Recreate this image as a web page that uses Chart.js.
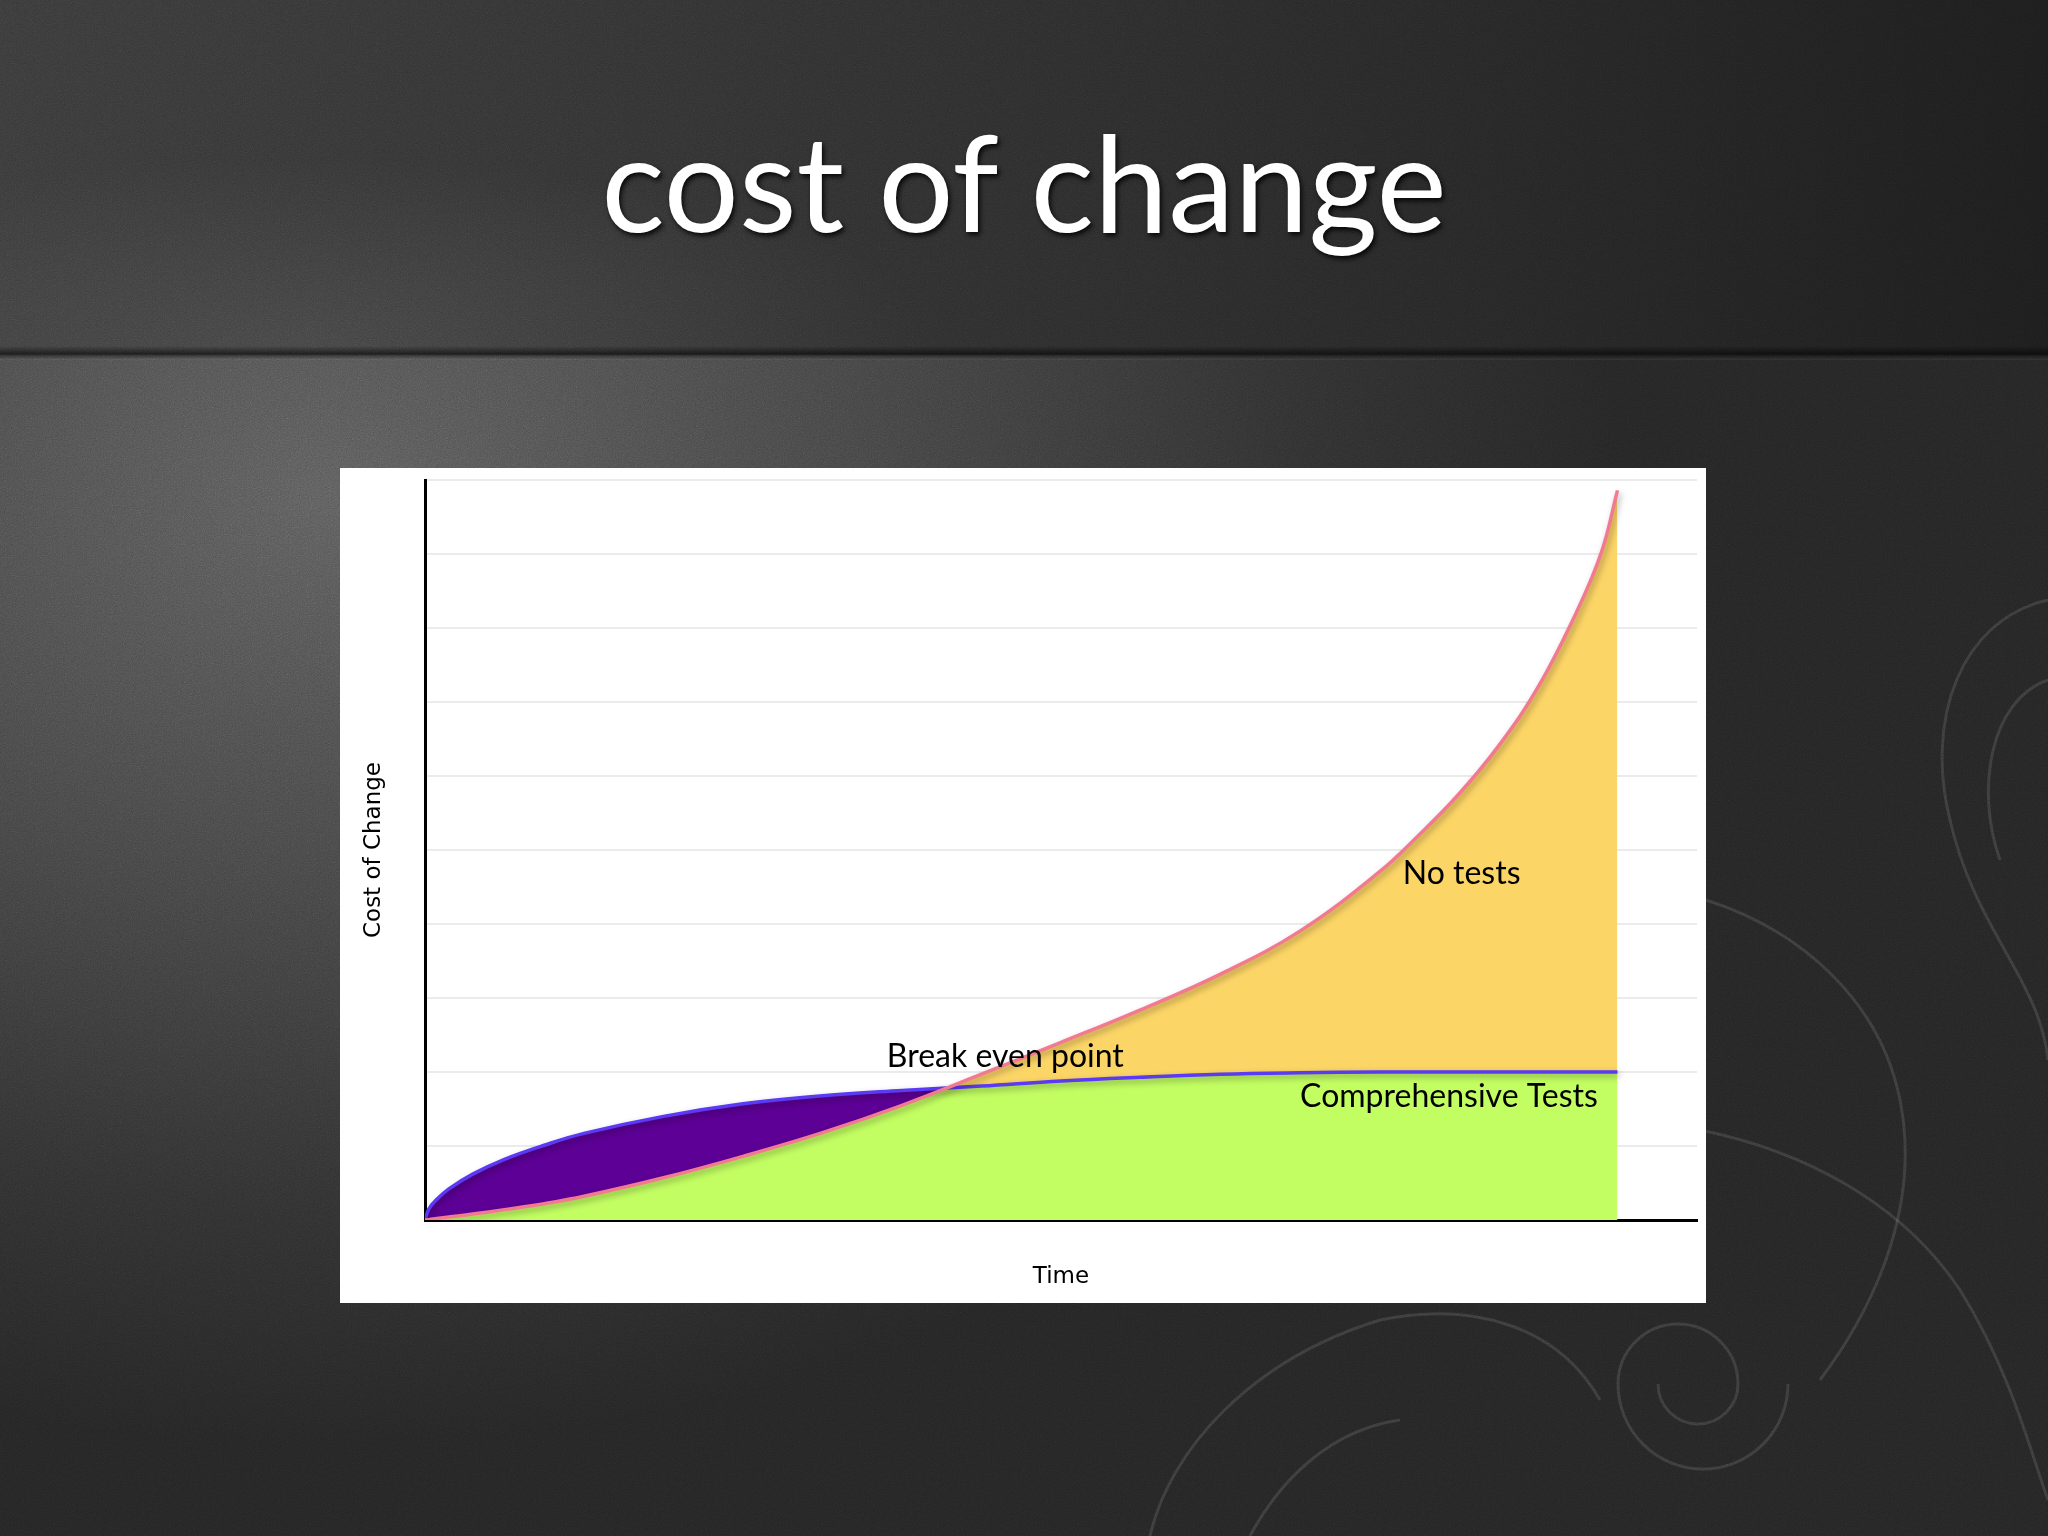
<!DOCTYPE html>
<html>
<head>
<meta charset="utf-8">
<title>cost of change</title>
<script src="https://cdn.jsdelivr.net/npm/chart.js@4.4.1/dist/chart.umd.min.js"></script>
<style>
  html, body { margin: 0; padding: 0; }
  body { width: 2048px; height: 1536px; position: relative; overflow: hidden; background: #2a2a2a; }
  #bgTop {
    position: absolute; left: 0; top: 0; width: 2048px; height: 355px;
    background:
      radial-gradient(ellipse 900px 260px at 300px 340px, rgba(100,100,100,0.30), rgba(0,0,0,0) 70%),
      linear-gradient(90deg, #383838 0%, #303030 35%, #262626 70%, #1c1c1c 100%);
  }
  #bgBottom {
    position: absolute; left: 0; top: 355px; width: 2048px; height: 1181px;
    background:
      radial-gradient(ellipse 1300px 950px at 320px 140px, #5a5a5a 0%, #444444 40%, #2f2f2f 75%, #242424 100%);
  }
  #fold {
    position: absolute; left: 0; top: 346px; width: 2048px; height: 14px;
    background: linear-gradient(180deg, rgba(0,0,0,0) 0%, rgba(0,0,0,0.55) 55%, rgba(255,255,255,0.05) 100%);
  }
  #swirls { position: absolute; left: 0; top: 0; }
  #noise {
    position: absolute; left: 0; top: 0; width: 2048px; height: 1536px; opacity: 0.55;
    background-image: url("data:image/svg+xml;utf8,<svg xmlns='http://www.w3.org/2000/svg' width='256' height='256'><filter id='n'><feTurbulence type='fractalNoise' baseFrequency='0.9' numOctaves='3' stitchTiles='stitch'/><feColorMatrix type='saturate' values='0'/></filter><rect width='100%' height='100%' filter='url(%23n)'/></svg>");
    mix-blend-mode: overlay;
  }
  #title {
    position: absolute; left: 0; top: 114px; width: 2048px; margin: 0;
    text-align: center; font-family: Lato, "Open Sans", sans-serif; font-weight: 400;
    font-size: 133px; line-height: 133px; color: #ffffff;
    text-shadow: 2px 3px 5px rgba(0,0,0,0.85);
  }
  #panel {
    position: absolute; left: 340px; top: 468px; width: 1366px; height: 835px; background: #ffffff;
  }
  #chart { display: block; }
</style>
</head>
<body>
<div id="bgTop"></div>
<div id="bgBottom"></div>
<div id="fold"></div>
<svg id="swirls" width="2048" height="1536" fill="none" stroke="rgba(200,200,200,0.13)" stroke-width="3">
  <path d="M2048 600 C1960 620 1925 720 1950 820 C1975 930 2040 980 2048 1060"/>
  <path d="M2048 680 C1990 700 1975 790 2000 860"/>
  <path d="M1706 900 C1800 930 1880 1000 1900 1100 C1920 1200 1880 1300 1820 1380"/>
  <path d="M1700 1130 C1800 1150 1900 1200 1960 1290 C2010 1370 2030 1450 2048 1500"/>
  <path d="M1698 1384 m-40 0 a40 40 0 1 0 80 0 a60 60 0 1 0 -120 0 a85 85 0 1 0 170 0"/>
  <path d="M1150 1536 C1170 1450 1250 1360 1380 1320 C1480 1300 1560 1330 1600 1400"/>
  <path d="M1250 1536 C1280 1480 1330 1430 1400 1420"/>
</svg>
<div id="noise"></div>
<h1 id="title">cost of change</h1>
<div id="panel"><canvas id="chart" width="1366" height="835"></canvas></div>

<script>
// ---- data ----
const timePoints        = [0, 0.05, 0.15, 0.3, 0.6, 1, 1.5, 2, 3, 4, 5, 6, 7, 8, 9, 10, 11, 12, 12.5, 13, 13.5, 14, 14.5, 14.8, 15];
const noTestsCost       = [0, 0.005, 0.02, 0.04, 0.08, 0.14, 0.22, 0.32, 0.57, 0.86, 1.18, 1.55, 1.97, 2.40, 2.84, 3.32, 3.90, 4.70, 5.20, 5.75, 6.40, 7.20, 8.25, 9.03, 9.86];
const comprehensiveCost = [0, 0.15, 0.28, 0.42, 0.62, 0.82, 1.01, 1.17, 1.40, 1.57, 1.68, 1.75, 1.81, 1.88, 1.93, 1.97, 1.99, 2.00, 2.00, 2.00, 2.00, 2.00, 2.00, 2.00, 2.00];
const seriesNames       = ['No tests', 'Comprehensive Tests'];
const xAxisTitle        = 'Time';
const yAxisTitle        = 'Cost of Change';
const timeMax           = 16;
const costMax           = 10;

// text labels placed in data units
const curveLabels = [
  { text: 'Break even point',    x: 7.30,  y: 2.07 },
  { text: 'No tests',            x: 13.04, y: 4.54 },
  { text: 'Comprehensive Tests', x: 12.88, y: 1.53 }
];

const toPoints = (xs, ys) => xs.map((x, i) => ({ x: x, y: ys[i] }));

const lineShadow = {
  id: 'lineShadow',
  beforeDatasetDraw(chart) {
    const c = chart.ctx;
    c.save();
    c.shadowColor = 'rgba(0,0,0,0.35)';
    c.shadowBlur = 6;
    c.shadowOffsetX = 2;
    c.shadowOffsetY = 3;
  },
  afterDatasetDraw(chart) {
    chart.ctx.restore();
  }
};

const labelPlugin = {
  id: 'curveLabels',
  afterDatasetsDraw(chart) {
    const { ctx, scales: { x, y } } = chart;
    ctx.save();
    ctx.font = '400 32px Lato, "Open Sans", sans-serif';
    ctx.fillStyle = '#000000';
    ctx.textAlign = 'center';
    ctx.textBaseline = 'alphabetic';
    curveLabels.forEach(l => ctx.fillText(l.text, x.getPixelForValue(l.x), y.getPixelForValue(l.y)));
    ctx.restore();
  }
};

new Chart(document.getElementById('chart'), {
  type: 'line',
  data: {
    datasets: [
      {
        label: seriesNames[0],
        data: toPoints(timePoints, noTestsCost),
        borderColor: '#f27a90',
        borderWidth: 3.5,
        pointRadius: 0,
        tension: 0.4,
        backgroundColor: '#fcd567',
        fill: { target: 1, above: '#fcd567', below: '#5d0096' }
      },
      {
        label: seriesNames[1],
        data: toPoints(timePoints, comprehensiveCost),
        borderColor: '#5a3af2',
        borderWidth: 3.5,
        pointRadius: 0,
        tension: 0.4,
        backgroundColor: '#c2fd62',
        fill: 'origin'
      }
    ]
  },
  options: {
    responsive: false,
    animation: false,
    events: [],
    layout: { padding: { left: 0, top: 12, right: 9, bottom: 0 } },
    plugins: {
      legend: { display: false },
      tooltip: { enabled: false },
      filler: { drawTime: 'beforeDatasetsDraw' }
    },
    scales: {
      x: {
        type: 'linear',
        min: 0,
        max: timeMax,
        ticks: { display: false },
        grid: { display: false },
        border: { display: true, color: '#000000', width: 3 },
        title: {
          display: true, text: xAxisTitle, color: '#000000',
          font: { family: '"DejaVu Sans", sans-serif', size: 23 },
          padding: { top: 0, bottom: 12 }
        },
        afterFit(s) { s.height = 83; }
      },
      y: {
        min: 0,
        max: costMax,
        ticks: { display: false, stepSize: 1 },
        grid: { color: '#ebebeb', lineWidth: 2, drawTicks: false },
        border: { display: true, color: '#000000', width: 3 },
        title: {
          display: true, text: yAxisTitle, color: '#000000',
          font: { family: '"DejaVu Sans", sans-serif', size: 23 },
          padding: { top: 20, bottom: 0 }
        },
        afterFit(s) { s.width = 85; }
      }
    }
  },
  plugins: [lineShadow, labelPlugin]
});
</script>
</body>
</html>
